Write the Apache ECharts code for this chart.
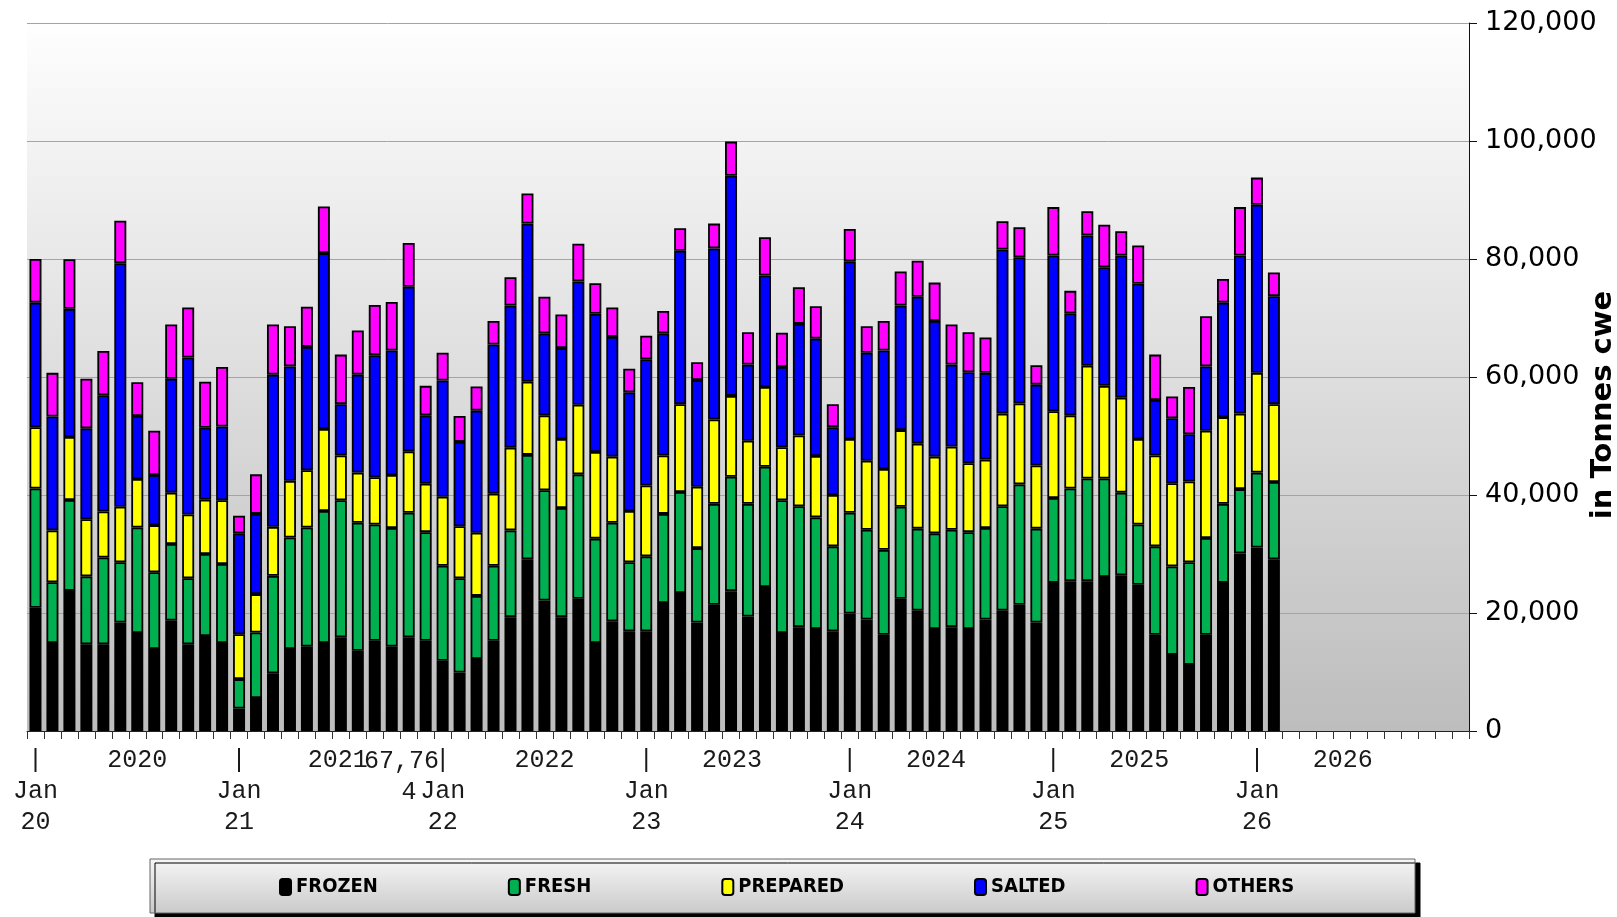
<!DOCTYPE html>
<html><head><meta charset="utf-8">
<script src="https://cdn.jsdelivr.net/npm/echarts@6/dist/echarts.min.js"></script>
<style>html,body{margin:0;padding:0;background:#fff}#c{width:1617px;height:917px}</style>
</head><body><div id="c"></div>
<script>
// ---- tick label texts ----
const monthNames = ['Jan','Feb','Mar','Apr','May','Jun','Jul','Aug','Sep','Oct','Nov','Dec'];
const yearLabels = ['2020','2021','2022','2023','2024','2025','2026','2027'];
const yearShort = ['20','21','22','23','24','25','26','27'];
const yTickValues = [0, 20000, 40000, 60000, 80000, 100000, 120000];

// categories: Jan 2020 .. Jan 2027 (85 months on the axis)
const categories = [];
for (let y = 0; y < 7; y++) for (let m = 0; m < 12; m++) categories.push(monthNames[m] + ' ' + yearLabels[y]);
categories.push(monthNames[0] + ' ' + yearLabels[7]);

// ---- series values (tonnes cwe), Jan 2020 .. Feb 2026 ----
const frozen = [
  20900,14900,23750,14700,14700,18400,16600,13900,18700,14700,16100,14900,
  3800,5600,9800,13900,14300,14900,15900,13600,15300,14300,15900,15300,
  11900,9900,12200,15300,19300,29100,22100,19300,22400,14900,18600,16900,
  16900,21700,23400,18400,21400,23700,19400,24400,16600,17600,17300,16900,
  19900,18900,16300,22400,20400,17300,17600,17300,18900,20400,21400,18400,
  25100,25400,25400,26100,26400,24800,16300,12900,11200,16300,25100,30100,
  31100,29100];
const fresh = [
  20200,10300,15400,11500,14700,10200,17900,13000,13000,11200,13900,13400,
  5000,11100,16500,18900,20200,22400,23200,21700,19700,20100,21100,18400,
  16100,16000,10700,12700,14700,17700,18700,18500,21100,17700,16700,11700,
  12700,15100,17100,12600,17100,19400,19100,20400,22500,20500,18900,14400,
  17100,15200,14400,15600,13900,16200,16500,16400,15500,17700,20400,15900,
  14400,15700,17400,16700,14000,10200,15000,15000,17400,16400,13400,10900,
  12700,13100];
const prepared = [
  10400,8800,10700,9700,7800,9400,8200,8000,8700,10800,9200,10800,
  7600,6500,8300,9600,9700,13900,7600,8500,8000,9000,10400,8200,
  11700,8800,10700,12200,14000,12400,12700,11700,11800,14700,11200,8700,
  12000,9900,14900,10400,14300,13700,10700,13500,9000,12000,10400,8700,
  12500,11700,13700,13000,14400,13000,14100,11700,11600,15700,13700,10700,
  14700,12400,19100,15700,16100,14500,15400,14100,13700,18200,14700,12800,
  16900,13200];
const salted = [
  21100,19300,21700,15400,19700,41300,10700,8500,19300,26600,12200,12500,
  17100,13600,25800,19400,20900,29800,8700,16600,20700,21100,27900,11600,
  19700,14300,20700,25300,24100,26800,13900,15400,20900,23400,20300,20100,
  21400,20700,26000,18100,29000,37300,12900,18900,13600,18900,19900,11500,
  30100,18300,20100,21100,24900,23000,13900,15400,14700,27800,24800,13700,
  26400,17300,22100,20100,24100,26300,9400,11000,8000,10900,19400,26800,
  28500,18300];
const others = [
  7400,7400,8400,8400,7500,7200,5700,7500,9200,8500,7800,10100,
  3000,6700,8500,6800,6800,7900,8400,7500,8500,8200,7400,5000,
  4700,4400,4100,4000,4800,5100,6200,5700,6400,5200,5000,4000,
  4000,3800,3800,3000,4200,5800,5500,6500,5800,6200,5500,3900,
  5500,4500,5000,5800,6100,6500,6800,6800,6000,4800,5100,3300,
  8200,3800,4100,7200,4100,6500,7700,3700,8000,8500,4000,8200,
  4600,4000];

const seriesNames = ['FROZEN','FRESH','PREPARED','SALTED','OTHERS'];
const seriesColors = ['#000000','#00b050','#ffff00','#0000ff','#ff00ff'];
const seriesData = [frozen, fresh, prepared, salted, others];

const chart = echarts.init(document.getElementById('c'), null, {renderer: 'canvas'});

const fmt = v => String(v).replace(/\B(?=(\d{3})+(?!\d))/g, ',');
const monoFont = "'Liberation Mono', monospace";
const yearRich = (padR) => ({fontFamily: monoFont, fontSize: 25, lineHeight: 31, color: '#1a1a1a', padding: [0, padR, 0, 0]});

const option = {
  animation: false,
  backgroundColor: '#ffffff',
  grid: {
    left: 27, right: 148, top: 23, bottom: 186,
    outerBoundsMode: 'none',
    containLabel: false,
    show: true, borderWidth: 0,
    backgroundColor: {type: 'linear', x: 0, y: 0, x2: 0, y2: 1,
      colorStops: [{offset: 0, color: '#fefefe'}, {offset: 1, color: '#bdbdbd'}]}
  },
  legend: {
    data: seriesNames,
    left: 274,
    top: 872,
    itemGap: 130,
    itemWidth: 11,
    itemHeight: 16,
    icon: 'roundRect',
    z: 10,
    textStyle: {fontFamily: "'DejaVu Sans Condensed', 'Liberation Sans Narrow', 'DejaVu Sans'", fontWeight: 'bold', fontSize: 20, color: '#000'}
  },
  xAxis: {
    type: 'category',
    data: categories,
    boundaryGap: true,
    axisLine: {show: true, lineStyle: {color: '#222', width: 1}},
    axisTick: {show: true, interval: 0, length: 8, lineStyle: {color: '#333'}},
    axisLabel: {
      interval: (i) => i < 84 && (i % 12 === 0 || i % 12 === 6),
      formatter: (v, i) => {
        const y = Math.floor(i / 12), m = i % 12;
        if (m === 0) return '|\n' + monthNames[0] + '\n' + yearShort[y];
        if (m === 6) return '{y' + y + '|' + yearLabels[y] + '}';
        return '';
      },
      rich: {
        y0: yearRich(0), y1: yearRich(6), y2: yearRich(0), y3: yearRich(32),
        y4: yearRich(31), y5: yearRich(32), y6: yearRich(32)
      },
      margin: 14,
      fontFamily: monoFont,
      fontSize: 25,
      lineHeight: 31,
      color: '#1a1a1a'
    },
    splitLine: {show: false}
  },
  yAxis: {
    type: 'value',
    position: 'right',
    min: yTickValues[0], max: yTickValues[yTickValues.length - 1], interval: 20000,
    name: 'in Tonnes cwe',
    nameLocation: 'middle',
    nameRotate: 90,
    nameGap: 120,
    nameMoveOverlap: false,
    nameTextStyle: {fontFamily: "'DejaVu Sans'", fontWeight: 'bold', fontSize: 29, color: '#000', padding: [0, 56, 0, 0]},
    axisLine: {show: true, lineStyle: {color: '#111', width: 1}},
    axisTick: {show: true, length: 8, lineStyle: {color: '#111'}},
    axisLabel: {margin: 16, formatter: v => fmt(v), fontFamily: "'DejaVu Sans'", fontSize: 27, color: '#000'},
    splitLine: {show: true, lineStyle: {color: '#a4a4a4', width: 1}}
  },
  graphic: [
    {type: 'rect', z: 0, silent: true,
     shape: {x: 150, y: 859, width: 1265, height: 54},
     style: {fill: {type: 'linear', x: 0, y: 0, x2: 0, y2: 1,
       colorStops: [{offset: 0, color: '#f6f6f6'}, {offset: 1, color: '#cacaca'}]},
       stroke: '#666', lineWidth: 1, shadowColor: '#000', shadowOffsetX: 5, shadowOffsetY: 4, shadowBlur: 0}},
    {type: 'text', z: 5, silent: true,
     style: {text: '67,76', x: 364, y: 761, fill: '#1a1a1a', font: "25px 'Liberation Mono'", verticalAlign: 'middle', align: 'left'}},
    {type: 'text', z: 5, silent: true,
     style: {text: '4', x: 409, y: 792, fill: '#1a1a1a', font: "25px 'Liberation Mono'", verticalAlign: 'middle', align: 'center'}}
  ],
  series: seriesNames.map((n, k) => ({
    name: n, type: 'bar', stack: 'total',
    data: seriesData[k],
    barWidth: 12,
    itemStyle: {color: seriesColors[k], borderColor: '#000', borderWidth: 1.8},
    emphasis: {disabled: true}
  }))
};
chart.setOption(option);
</script></body></html>
